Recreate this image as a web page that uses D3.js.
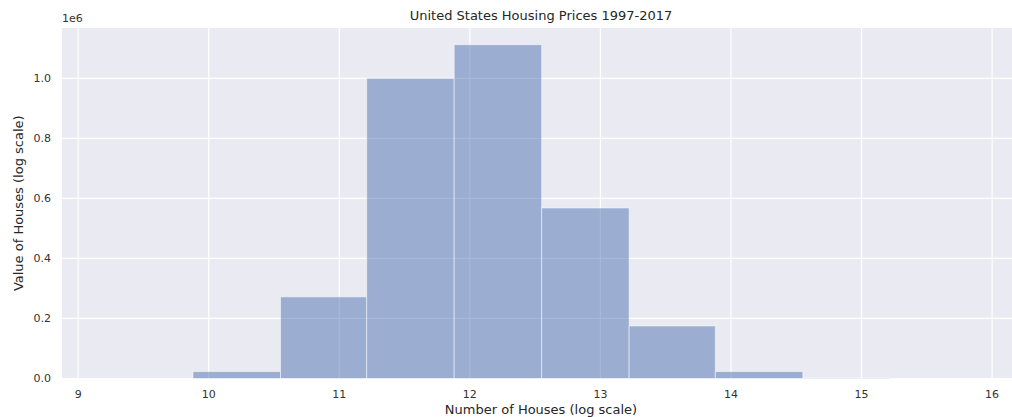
<!DOCTYPE html>
<html>
<head>
<meta charset="utf-8">
<script src="https://cdn.jsdelivr.net/npm/d3@7"></script>
<style>
    html, body { margin: 0; padding: 0; background: #ffffff; }
    svg text { font-family: 'DejaVu Sans', sans-serif; }
</style>
</head>
<body>
<div id="hist-chart"></div>
<script>
'use strict';

// histogram bins (log of number of houses) and counts
const binEdges = [9.21, 9.88, 10.55, 11.21, 11.88, 12.55, 13.22, 13.88, 14.55, 15.22, 15.88];
const binCounts = [0, 23000, 272000, 1000000, 1112000, 568000, 175000, 23000, 1500, 150];
const xTicks = [9, 10, 11, 12, 13, 14, 15, 16];
const yTicks = [0, 200000, 400000, 600000, 800000, 1000000];

const width = 1012;
const height = 417;
const plot = { left: 62, right: 1020, top: 28, bottom: 378.5 };

const svg = d3.select('#hist-chart')
    .append('svg')
    .attr('width', width)
    .attr('height', height);

const bins = binCounts.map(function (c, i) {
    return { x0: binEdges[i], x1: binEdges[i + 1], count: c };
});

// matplotlib style 5% margins on x
const span = binEdges[binEdges.length - 1] - binEdges[0];
const xScale = d3.scaleLinear()
    .domain([binEdges[0] - span * 0.05, binEdges[binEdges.length - 1] + span * 0.05])
    .range([plot.left, plot.right]);

const yScale = d3.scaleLinear()
    .domain([0, d3.max(binCounts) * 1.05])
    .range([plot.bottom, plot.top]);

// background
svg.append('rect')
    .attr('x', plot.left)
    .attr('y', plot.top)
    .attr('width', plot.right - plot.left)
    .attr('height', plot.bottom - plot.top)
    .attr('fill', '#eaeaf2');

// grid
svg.append('g')
    .selectAll('line')
    .data(xTicks)
    .join('line')
    .attr('x1', function (d) { return xScale(d); })
    .attr('x2', function (d) { return xScale(d); })
    .attr('y1', plot.top)
    .attr('y2', plot.bottom)
    .attr('stroke', '#ffffff')
    .attr('stroke-width', 1.2);

svg.append('g')
    .selectAll('line')
    .data(yTicks)
    .join('line')
    .attr('x1', plot.left)
    .attr('x2', plot.right)
    .attr('y1', function (d) { return yScale(d); })
    .attr('y2', function (d) { return yScale(d); })
    .attr('stroke', '#ffffff')
    .attr('stroke-width', 1.2);

// bars
svg.append('g')
    .selectAll('rect')
    .data(bins)
    .join('rect')
    .attr('x', function (d) { return xScale(d.x0); })
    .attr('width', function (d) { return xScale(d.x1) - xScale(d.x0); })
    .attr('y', function (d) { return yScale(d.count); })
    .attr('height', function (d) { return yScale(0) - yScale(d.count); })
    .attr('fill', '#4c72b0')
    .attr('fill-opacity', 0.5)
    .attr('stroke', '#ffffff')
    .attr('stroke-opacity', 0.5)
    .attr('stroke-width', 1);

// tick labels
svg.append('g')
    .selectAll('text')
    .data(xTicks)
    .join('text')
    .attr('x', function (d) { return xScale(d); })
    .attr('y', plot.bottom + 19)
    .attr('text-anchor', 'middle')
    .attr('font-size', 11)
    .attr('fill', '#333333')
    .text(function (d) { return d; });

svg.append('g')
    .selectAll('text')
    .data(yTicks)
    .join('text')
    .attr('x', plot.left - 11)
    .attr('y', function (d) { return yScale(d); })
    .attr('dy', '0.35em')
    .attr('text-anchor', 'end')
    .attr('font-size', 11)
    .attr('fill', '#333333')
    .text(function (d) { return d3.format('.1f')(d / 1e6); });

svg.append('text')
    .attr('x', plot.left)
    .attr('y', 22)
    .attr('font-size', 11)
    .attr('fill', '#333333')
    .text('1e6');

// titles
svg.append('text')
    .attr('x', (plot.left + plot.right) / 2)
    .attr('y', 20)
    .attr('text-anchor', 'middle')
    .attr('font-size', 13)
    .attr('fill', '#262626')
    .text('United States Housing Prices 1997-2017');

svg.append('text')
    .attr('x', (plot.left + plot.right) / 2)
    .attr('y', 414)
    .attr('text-anchor', 'middle')
    .attr('font-size', 13)
    .attr('fill', '#262626')
    .text('Number of Houses (log scale)');

svg.append('text')
    .attr('transform', 'rotate(-90)')
    .attr('x', -(plot.top + plot.bottom) / 2)
    .attr('y', 23)
    .attr('text-anchor', 'middle')
    .attr('font-size', 13)
    .attr('fill', '#262626')
    .text('Value of Houses (log scale)');
</script>
</body>
</html>
